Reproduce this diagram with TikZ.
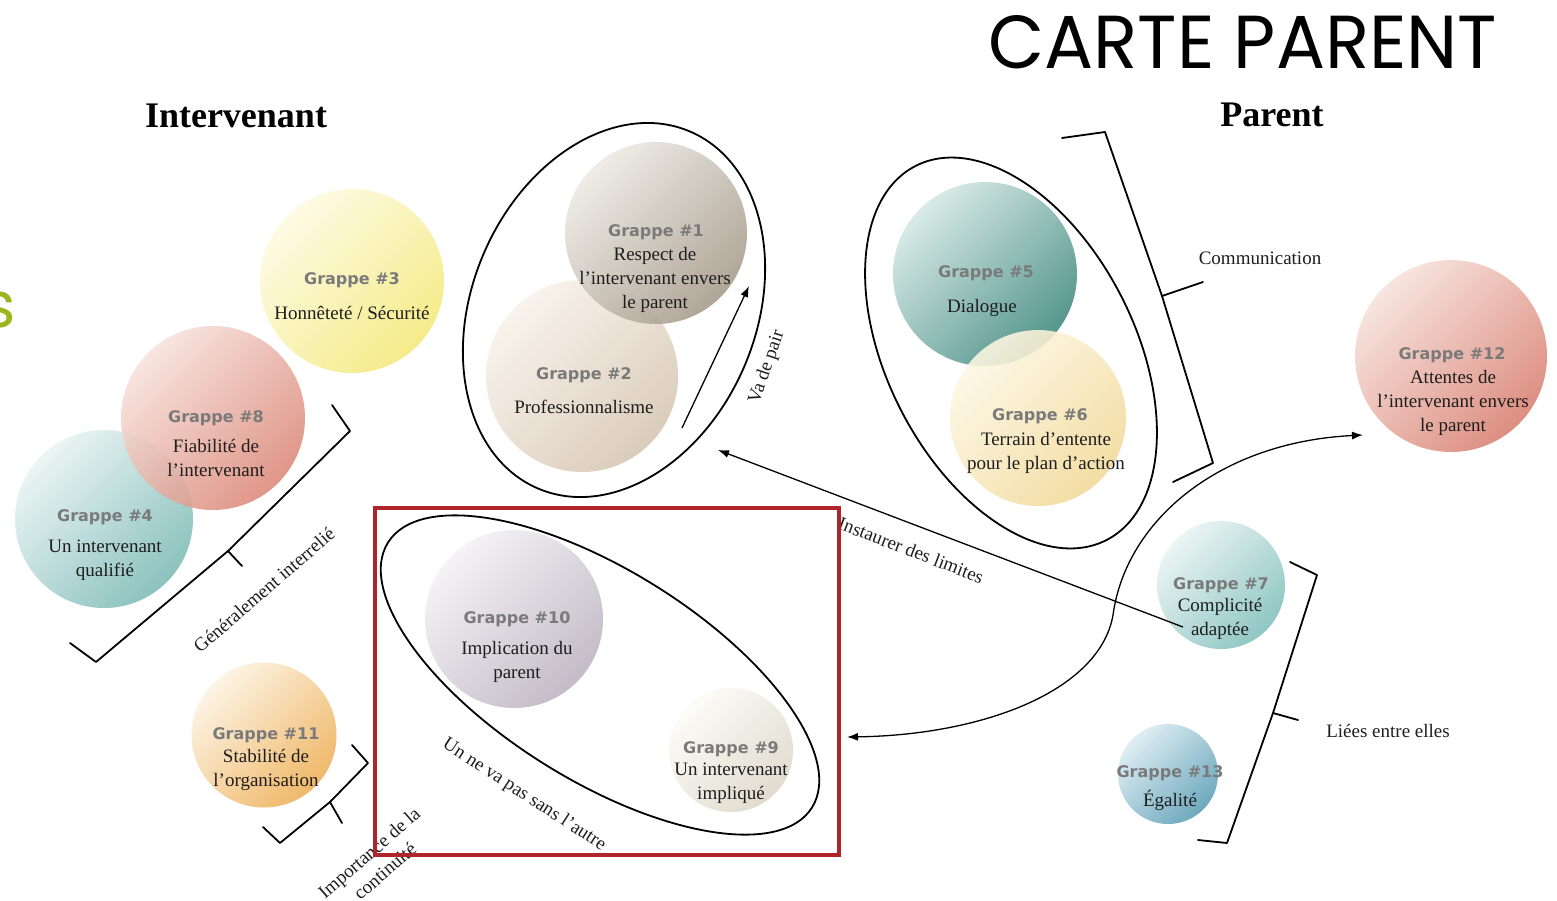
\documentclass[tikz,border=0pt]{standalone}
\usepackage{fontspec}
\usepackage{graphicx}
\setmainfont{Liberation Serif}
\newfontfamily\grpfamily{DejaVu Sans}
\newfontfamily\titlefont{Poppins}
\usetikzlibrary{arrows.meta}
\newcommand\bodyfont{\fontsize{19}{24}\selectfont}
\newcommand\grpf{\grpfamily\bfseries\fontsize{16}{19}\selectfont}
\definecolor{bodyc}{HTML}{1E1E1E}
\definecolor{grpc}{HTML}{7A7A7A}
\definecolor{redbox}{HTML}{B0252B}
\definecolor{sgreen}{HTML}{9BB51F}
\definecolor{c3a}{HTML}{FEFBE2}\definecolor{c3b}{HTML}{F4E97A}
\definecolor{c8a}{HTML}{F7E2DC}\definecolor{c8b}{HTML}{DC8878}
\definecolor{c4a}{HTML}{E9F4F3}\definecolor{c4b}{HTML}{7CBAB6}
\definecolor{c1a}{HTML}{EDEAE4}\definecolor{c1b}{HTML}{A59A89}
\definecolor{c2a}{HTML}{F8F2EB}\definecolor{c2b}{HTML}{D6C6B2}
\definecolor{c5a}{HTML}{D4E8E4}\definecolor{c5b}{HTML}{3D887E}
\definecolor{c6a}{HTML}{FDF7E4}\definecolor{c6b}{HTML}{F2D998}
\definecolor{c12a}{HTML}{F7E2DC}\definecolor{c12b}{HTML}{D97F70}
\definecolor{c7a}{HTML}{E9F4F3}\definecolor{c7b}{HTML}{80BFBB}
\definecolor{c13a}{HTML}{DCEDF3}\definecolor{c13b}{HTML}{5A9DB5}
\definecolor{c10a}{HTML}{F4F2F5}\definecolor{c10b}{HTML}{BCB3C0}
\definecolor{c9a}{HTML}{FCFCF8}\definecolor{c9b}{HTML}{DDD7C7}
\definecolor{c11a}{HTML}{FDF3E2}\definecolor{c11b}{HTML}{EEAF55}
\begin{document}
\begin{tikzpicture}[x=1pt,y=-1pt,
  grappe/.style={circle, inner sep=0pt, minimum size=#1, fill opacity=0.88},
  txt/.style={font=\bodyfont, text=bodyc, inner sep=0pt, align=center},
  grp/.style={font=\grpf, text=grpc, inner sep=0pt, anchor=base},
  ell/.style={draw=black, line width=1.8pt},
  brk/.style={draw=black, line width=1.8pt, line join=round, line cap=round},
  arr/.style={draw=black, line width=1.3pt, -{Latex[length=11pt,width=8pt]}},
  arrs/.style={draw=black, line width=1.3pt, {Latex[length=11pt,width=8pt]}-{Latex[length=11pt,width=8pt]}},
  lab/.style={font=\bodyfont, text=bodyc, inner sep=0pt}]
\useasboundingbox (0,0) rectangle (1557,900);
\clip (0,0) rectangle (1557,900);
\fill[white] (0,0) rectangle (1557,900);

% title and headers
\node[anchor=base west, inner sep=0pt] (title) at (988,68) {\titlefont\resizebox{509pt}{53pt}{CARTE PARENT}};
\node[anchor=base east, inner sep=0pt, text=sgreen, font=\titlefont\fontsize{64}{64}\selectfont] (gs) at (16,327) {s};
\node[anchor=base, inner sep=0pt, font=\bfseries\fontsize{36}{40}\selectfont] (hint) at (236,127) {Intervenant};
\node[anchor=base, inner sep=0pt, font=\bfseries\fontsize{36}{40}\selectfont] (hpar) at (1272,126) {Parent};

% circles
\node[grappe=184pt, top color=c3a, bottom color=c3b, shading angle=45] (g3) at (352,281) {};
\node[grappe=178pt, top color=c4a, bottom color=c4b, shading angle=45] (g4) at (104,519) {};
\node[grappe=184pt, top color=c8a, bottom color=c8b, shading angle=45] (g8) at (213,418) {};
\node[grappe=192pt, top color=c2a, bottom color=c2b, shading angle=45] (g2) at (582,376) {};
\node[grappe=182pt, top color=c1a, bottom color=c1b, shading angle=45] (g1) at (656,233) {};
\node[grappe=184pt, top color=c5a, bottom color=c5b, shading angle=45] (g5) at (985,274) {};
\node[grappe=176pt, top color=c6a, bottom color=c6b, shading angle=45] (g6) at (1038,418) {};
\node[grappe=192pt, top color=c12a, bottom color=c12b, shading angle=45] (g12) at (1451,356) {};
\node[grappe=128pt, top color=c7a, bottom color=c7b, shading angle=45] (g7) at (1221,585) {};
\node[grappe=100pt, top color=c13a, bottom color=c13b, shading angle=45] (g13) at (1168,774) {};
\node[grappe=178pt, top color=c10a, bottom color=c10b, shading angle=45] (g10) at (514,619) {};
\node[grappe=124pt, top color=c9a, bottom color=c9b, shading angle=45] (g9) at (731,750) {};
\node[grappe=145pt, top color=c11a, bottom color=c11b, shading angle=45] (g11) at (264,735) {};

% ellipses
\draw[ell, rotate around={67:(614,310)}] (614,310) ellipse [x radius=194, y radius=142];
\draw[ell, rotate around={117:(1011,353)}] (1011,353) ellipse [x radius=210, y radius=124];
\draw[ell, rotate around={-32:(600,675)}] (600,675) ellipse [x radius=250, y radius=105];

% brackets
\draw[brk] (332,405) -- (350,431) -- (228,551) -- (96,662) -- (70,643);
\draw[brk] (228,551) -- (242,566);
\draw[brk] (352,745) -- (368,763) -- (330,802) -- (280,843) -- (263,827);
\draw[brk] (330,802) -- (342,823);
\draw[brk] (1062,138) -- (1105,132) -- (1162,296) -- (1213,463) -- (1173,482);
\draw[brk] (1162,296) -- (1203,282);
\draw[brk] (1290,562) -- (1317,575) -- (1273,713) -- (1227,843) -- (1198,840);
\draw[brk] (1273,713) -- (1298,720);

% connectors
\coordinate (vaS) at (682,428);
\coordinate (vaE) at (749,286);
\draw[arr] (vaS) -- (vaE);
\coordinate (inS) at (1183,627);
\coordinate (inE) at (718,450);
\draw[arr] (inS) -- (inE);
\coordinate (cvA) at (847,737);
\coordinate (cvM) at (1113,615);
\coordinate (cvB) at (1363,435);
\draw[arrs] (cvA) .. controls (985,735) and (1100,690) .. (cvM) .. controls (1126,520) and (1220,442) .. (cvB);

% connector labels
\node[lab, rotate=71] (lva) at (767,367) {Va de pair};
\node[lab, rotate=-21] (lin) at (911,550) {Instaurer des limites};
\node[lab, rotate=41] (lgen) at (264,590) {Généralement interrelié};
\node[lab, rotate=41, align=center] (limp) at (377,862) {Importance de la\\continuité};
\node[lab, rotate=-33] (lun) at (524,795) {Un ne va pas sans l’autre};
\node[lab] (lcom) at (1260,258) {Communication};
\node[lab] (llie) at (1388,731) {Liées entre elles};

% circle texts
\node[grp] (tg3) at (352,284) {Grappe \#3};
\node[txt] (tb3) at (352,313) {Honnêteté / Sécurité};
\node[grp] (tg8) at (216,422) {Grappe \#8};
\node[txt] (tb8) at (216,458) {Fiabilité de\\l’intervenant};
\node[grp] (tg4) at (105,521) {Grappe \#4};
\node[txt] (tb4) at (105,560) {Un intervenant\\qualifié};
\node[grp] (tg1) at (656,236) {Grappe \#1};
\node[txt] (tb1) at (655,280) {Respect de\\l’intervenant envers\\le parent};
\node[grp] (tg2) at (584,379) {Grappe \#2};
\node[txt] (tb2) at (584,407) {Professionnalisme};
\node[grp] (tg5) at (986,277) {Grappe \#5};
\node[txt] (tb5) at (982,308) {Dialogue};
\node[grp] (tg6) at (1040,420) {Grappe \#6};
\node[txt] (tb6) at (1046,453) {Terrain d’entente\\pour le plan d’action};
\node[grp] (tg12) at (1452,359) {Grappe \#12};
\node[txt] (tb12) at (1453,403) {Attentes de\\l’intervenant envers\\le parent};
\node[grp] (tg7) at (1221,589) {Grappe \#7};
\node[txt] (tb7) at (1220,619) {Complicité\\adaptée};
\node[grp] (tg13) at (1170,777) {Grappe \#13};
\node[txt] (tb13) at (1170,800) {Égalité};
\node[grp] (tg10) at (517,623) {Grappe \#10};
\node[txt] (tb10) at (517,662) {Implication du\\parent};
\node[grp] (tg9) at (731,753) {Grappe \#9};
\node[txt] (tb9) at (731,783) {Un intervenant\\impliqué};
\node[grp] (tg11) at (266,739) {Grappe \#11};
\node[txt] (tb11) at (266,770) {Stabilité de\\l’organisation};

% red frame
\draw[draw=redbox, line width=3.5pt] (375,508) rectangle (839,855);
\end{tikzpicture}
\end{document}
